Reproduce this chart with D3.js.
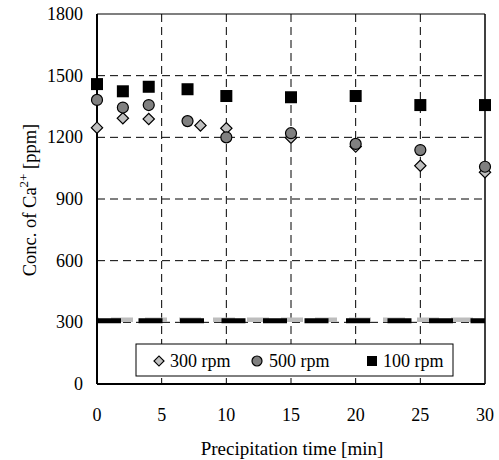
<!DOCTYPE html>
<html>
<head>
<meta charset="utf-8">
<script src="https://cdn.jsdelivr.net/npm/d3@7"></script>
<style>
  body { margin: 0; background: #fff; }
  svg text { font-family: "Liberation Serif", serif; }
</style>
</head>
<body>
<script>
// data
var times300 = [0, 2, 4, 8, 10, 15, 20, 25, 30];
var conc300 = [1247, 1293, 1289, 1258, 1244, 1198, 1155, 1062, 1030];
var times500 = [0, 2, 4, 7, 10, 15, 20, 25, 30];
var conc500 = [1382, 1345, 1357, 1279, 1200, 1220, 1168, 1138, 1057];
var times100 = [0, 2, 4, 7, 10, 15, 20, 25, 30];
var conc100 = [1459, 1424, 1446, 1434, 1401, 1395, 1401, 1357, 1357];
var baseline = 308;
var xTicks = [0, 5, 10, 15, 20, 25, 30];
var yTicks = [0, 300, 600, 900, 1200, 1500, 1800];
var legendLabels = ["300 rpm", "500 rpm", "100 rpm"];

(function() {
  var width = 499, height = 460;
  var pLeft = 97, pRight = 485, pTop = 14, pBottom = 384;

  var svg = d3.select("body").append("svg")
    .attr("width", width)
    .attr("height", height);

  var x = d3.scaleLinear().domain([0, 30]).range([pLeft, pRight]);
  var y = d3.scaleLinear().domain([0, 1800]).range([pBottom, pTop]);

  // grid
  svg.append("g").selectAll("line")
    .data(yTicks.filter(function(d) { return d > 0 && d < 1800; }))
    .enter().append("line")
    .attr("x1", pLeft).attr("x2", pRight)
    .attr("y1", function(d) { return y(d); })
    .attr("y2", function(d) { return y(d); })
    .attr("stroke", "#000")
    .attr("stroke-width", 1)
    .attr("stroke-dasharray", "8,5");

  svg.append("g").selectAll("line")
    .data(xTicks.filter(function(d) { return d > 0 && d < 30; }))
    .enter().append("line")
    .attr("y1", pTop).attr("y2", pBottom)
    .attr("x1", function(d) { return x(d); })
    .attr("x2", function(d) { return x(d); })
    .attr("stroke", "#000")
    .attr("stroke-width", 1)
    .attr("stroke-dasharray", "8,5");

  // frame
  svg.append("line").attr("x1", pLeft).attr("x2", pRight).attr("y1", pTop).attr("y2", pTop)
    .attr("stroke", "#000").attr("stroke-width", 1.2);
  svg.append("line").attr("x1", pRight).attr("x2", pRight).attr("y1", pTop).attr("y2", pBottom)
    .attr("stroke", "#000").attr("stroke-width", 1.5);

  // baseline dashed lines
  svg.append("line")
    .attr("x1", x(0)).attr("x2", x(30))
    .attr("y1", y(baseline) - 1).attr("y2", y(baseline) - 1)
    .attr("stroke", "#bdbdbd").attr("stroke-width", 4.5)
    .attr("stroke-dasharray", "22,12")
    .attr("stroke-dashoffset", -14);
  svg.append("line")
    .attr("x1", x(0)).attr("x2", x(30))
    .attr("y1", y(baseline)).attr("y2", y(baseline))
    .attr("stroke", "#000").attr("stroke-width", 5)
    .attr("stroke-dasharray", "24,17.5");

  // axis lines
  svg.append("line").attr("x1", pLeft).attr("x2", pLeft).attr("y1", pTop).attr("y2", pBottom)
    .attr("stroke", "#000").attr("stroke-width", 2);
  svg.append("line").attr("x1", pLeft).attr("x2", pRight).attr("y1", pBottom).attr("y2", pBottom)
    .attr("stroke", "#000").attr("stroke-width", 2);

  // tick labels
  svg.append("g").selectAll("text")
    .data(yTicks).enter().append("text")
    .attr("x", 83)
    .attr("y", function(d) { return y(d) + 6; })
    .attr("text-anchor", "end")
    .attr("font-size", 18)
    .text(function(d) { return d; });

  svg.append("g").selectAll("text")
    .data(xTicks).enter().append("text")
    .attr("x", function(d) { return x(d); })
    .attr("y", 421)
    .attr("text-anchor", "middle")
    .attr("font-size", 18)
    .text(function(d) { return d; });

  // axis titles
  svg.append("text")
    .attr("x", 292).attr("y", 455)
    .attr("text-anchor", "middle")
    .attr("font-size", 19)
    .text("Precipitation time [min]");

  var yl = svg.append("text")
    .attr("transform", "translate(36,200) rotate(-90)")
    .attr("text-anchor", "middle")
    .attr("font-size", 18.5);
  yl.append("tspan").text("Conc. of Ca");
  yl.append("tspan").attr("dy", -8).attr("font-size", 13).text("2+");
  yl.append("tspan").attr("dy", 8).text(" [ppm]");

  // markers
  var diamond = d3.symbol().type(d3.symbolSquare).size(64);

  svg.append("g").selectAll("path")
    .data(times300.map(function(t, i) { return [t, conc300[i]]; }))
    .enter().append("path")
    .attr("d", diamond)
    .attr("transform", function(d) { return "translate(" + x(d[0]) + "," + y(d[1]) + ") rotate(45)"; })
    .attr("fill", "#c0c0c0").attr("stroke", "#000").attr("stroke-width", 1.2);

  svg.append("g").selectAll("circle")
    .data(times500.map(function(t, i) { return [t, conc500[i]]; }))
    .enter().append("circle")
    .attr("cx", function(d) { return x(d[0]); })
    .attr("cy", function(d) { return y(d[1]); })
    .attr("r", 5.5)
    .attr("fill", "#808080").attr("stroke", "#000").attr("stroke-width", 1.2);

  svg.append("g").selectAll("rect")
    .data(times100.map(function(t, i) { return [t, conc100[i]]; }))
    .enter().append("rect")
    .attr("x", function(d) { return x(d[0]) - 6; })
    .attr("y", function(d) { return y(d[1]) - 6; })
    .attr("width", 12).attr("height", 12)
    .attr("fill", "#000");

  // legend
  var lg = svg.append("g");
  lg.append("rect")
    .attr("x", 136).attr("y", 344).attr("width", 317).attr("height", 32)
    .attr("fill", "#fff").attr("stroke", "#000").attr("stroke-width", 1);

  lg.append("path").attr("d", d3.symbol().type(d3.symbolSquare).size(50))
    .attr("transform", "translate(159,361) rotate(45)")
    .attr("fill", "#c0c0c0").attr("stroke", "#000").attr("stroke-width", 1.2);
  lg.append("circle").attr("cx", 257).attr("cy", 361).attr("r", 5)
    .attr("fill", "#808080").attr("stroke", "#000").attr("stroke-width", 1.2);
  lg.append("rect").attr("x", 367).attr("y", 356).attr("width", 10).attr("height", 10)
    .attr("fill", "#000");

  lg.selectAll("text.lab")
    .data(legendLabels).enter().append("text")
    .attr("class", "lab")
    .attr("x", function(d, i) { return [170, 269, 383][i]; })
    .attr("y", 367)
    .attr("font-size", 18)
    .text(function(d) { return d; });
})();
</script>
</body>
</html>
